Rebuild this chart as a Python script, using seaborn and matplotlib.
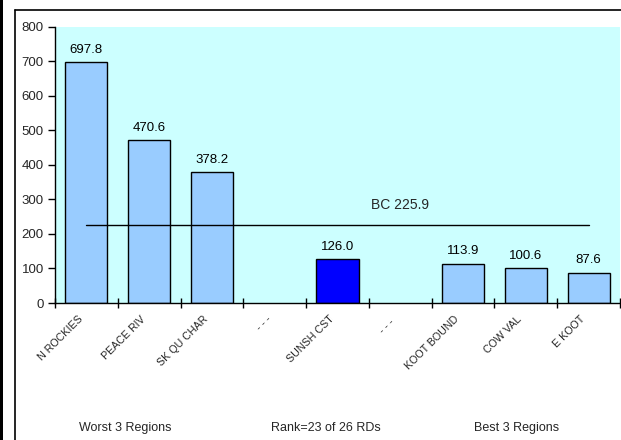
import numpy as np
import pandas as pd
import matplotlib
matplotlib.use("Agg")
import matplotlib.pyplot as plt
from matplotlib.lines import Line2D
from matplotlib.patches import Rectangle
import seaborn as sns

categories = ["N ROCKIES", "PEACE RIV", "SK QU CHAR", "- - -", "SUNSH CST",
              "- - - ", "KOOT BOUND", "COW VAL", "E KOOT"]
values = [697.8, 470.6, 378.2, np.nan, 126.0, np.nan, 113.9, 100.6, 87.6]
bar_colors = ["#99CCFF", "#99CCFF", "#99CCFF", "#99CCFF", "#0000FF",
              "#99CCFF", "#99CCFF", "#99CCFF", "#99CCFF"]
bc_value = 225.9
bc_label = "BC 225.9"
y_ticks = [0, 100, 200, 300, 400, 500, 600, 700, 800]
footer_texts = ["Worst 3 Regions", "Rank=23 of 26 RDs", "Best 3 Regions"]

sns.set_style("white")
plt.rcParams['font.family'] = ['Liberation Sans', 'DejaVu Sans']

df = pd.DataFrame({"region": categories, "value": values})

fig = plt.figure(figsize=(6.21, 4.4), dpi=100)
ax = fig.add_axes([55/621, 1 - 303/440, 565/621, (303 - 26.7)/440])
ax.set_facecolor("#CCFFFF")

sns.barplot(data=df, x="region", y="value", hue="region", order=categories,
            hue_order=categories, palette=bar_colors, legend=False,
            width=0.67, edgecolor="black", linewidth=1.0, saturation=1,
            ax=ax)

for i, v in enumerate(values):
    if not np.isnan(v):
        ax.annotate(f"{v:.1f}", (i, v), xytext=(0, 4.5), textcoords="offset points",
                    ha="center", va="bottom", fontsize=9.5, color="black")

ax.plot([0, len(categories) - 1], [bc_value, bc_value], color="black", lw=1.0)
ax.text(5.0, bc_value + 38, bc_label, ha="center", va="bottom", fontsize=10)

ax.set_xlim(-0.5, len(categories) - 0.5)
ax.set_ylim(0, 800)
ax.set_yticks(y_ticks)
ax.set_yticklabels([str(t) for t in y_ticks], fontsize=9.5)
ax.set_xlabel("")
ax.set_ylabel("")

# label anchors sit slightly left of each slot centre (invisible major ticks)
ax.set_xticks(np.arange(len(categories)) - 0.03)
ax.set_xticklabels(categories, rotation=45, ha="right", va="top",
                   rotation_mode="default", fontsize=7.7)
ax.set_xticks(np.arange(-0.5, len(categories), 1.0), minor=True)
ax.tick_params(axis="x", which="major", length=0, pad=8, bottom=True)
ax.tick_params(axis="x", which="minor", direction="inout", length=7, width=1,
               color="black", bottom=True)
ax.tick_params(axis="y", which="major", direction="out", length=5, width=1,
               color="black", pad=3, left=True)

for s in ["top", "right"]:
    ax.spines[s].set_visible(False)
for s in ["left", "bottom"]:
    ax.spines[s].set_color("black")
    ax.spines[s].set_linewidth(1.0)

fx = [125/621, 326/621, 517/621]
for x, t in zip(fx, footer_texts):
    fig.text(x, 1 - 428/440, t, ha="center", va="center", fontsize=9)

# figure frame
fig.patches.append(Rectangle((0, 0), 3/621, 1, transform=fig.transFigure,
                             facecolor="black", edgecolor="none"))
fig.lines.append(Line2D([15/621, 15/621], [0, 1 - 10/440], transform=fig.transFigure,
                        color="black", lw=1.2))
fig.lines.append(Line2D([15/621, 1], [1 - 10/440, 1 - 10/440], transform=fig.transFigure,
                        color="black", lw=1.2))

fig.savefig("out.png", dpi=100)
